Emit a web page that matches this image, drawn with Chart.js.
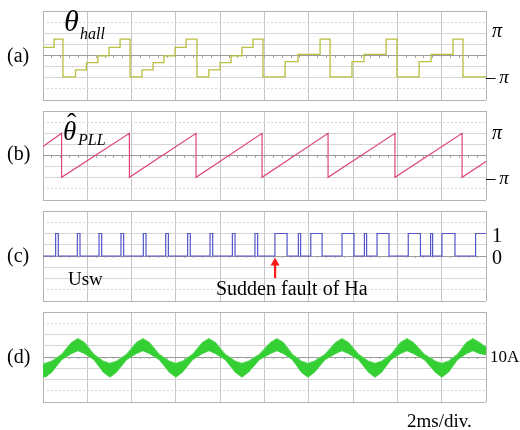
<!DOCTYPE html>
<html lang="en">
<head>
  <meta charset="UTF-8" />
  <title>Hall fault waveforms</title>
  <script src="https://cdn.jsdelivr.net/npm/chart.js"></script>
  <style>
    body { margin: 0; background: #fff; }
    #wrap { position: relative; width: 520px; height: 430px; overflow: hidden; }
    #wrap canvas, #wrap svg { position: absolute; left: 0; top: 0; }
    .t { position: absolute; font-family: "Liberation Serif", "Times New Roman", serif; line-height: 1; white-space: nowrap; color: #000; }
    .i { font-style: italic; }
  </style>
</head>
<body>
<div id="wrap">
  <canvas id="cA" width="520" height="430"></canvas>
  <canvas id="cB" width="520" height="430"></canvas>
  <canvas id="cC" width="520" height="430"></canvas>
  <canvas id="cD" width="520" height="430"></canvas>
  <svg width="520" height="430">
    <polygon points="275,257.5 270.5,265.5 279.5,265.5" fill="#ff1a1a" />
    <rect x="274" y="265" width="2.2" height="13" fill="#ff1a1a" />
  </svg>
</div>

<script>
  // time axis: 0..20 ms (2 ms/div)
  // (a) hall angle in rad, each level holds from its time to the next
  const hallT = [0, 0.50, 0.90, 1.47, 1.96, 2.48, 2.98, 3.48, 3.93, 4.47, 4.97, 5.46, 5.96, 6.46,
                 6.95, 7.49, 7.99, 8.49, 8.98, 9.48, 9.93, 10.93, 11.51, 12.51, 12.96, 13.95, 14.49,
                 15.49, 15.98, 16.98, 17.52, 18.51, 18.96, 20];
  const hallV = [1.15, 2.32, -3.02, -2.02, -1.0, -0.05, 1.15, 2.32, -3.02, -2.02, -1.0, -0.05, 1.15, 2.32,
                 -3.02, -2.02, -1.0, -0.05, 1.15, 2.32, -3.02, -0.87, 0.17, 2.32, -3.02, -0.87, 0.17,
                 2.32, -3.02, -0.87, 0.17, 2.32, -3.02, -3.02];

  // (b) PLL angle estimate in rad
  const pllT = [0, 0.84, 0.84, 3.90, 3.90, 6.91, 6.91, 9.89, 9.89, 12.87, 12.87, 15.89, 15.89, 18.92, 18.92, 20];
  const pllV = [1.26, 3.14, -3.08, 3.14, -3.08, 3.14, -3.08, 3.14, -3.08, 3.14, -3.08, 3.14, -3.08, 3.14, -3.08, -0.85];

  // (c) switch signal Usw, 0/1, each level holds from its time to the next
  const uswT = [0, 0.57, 0.69, 1.55, 1.67, 2.53, 2.65, 3.52, 3.64, 4.53, 4.65, 5.54, 5.66, 6.53, 6.65,
                7.54, 7.66, 8.55, 8.67, 9.57, 9.69, 10.47, 11.02, 11.53, 11.63, 12.09, 12.60, 13.50,
                14.04, 14.51, 14.61, 15.08, 15.62, 16.49, 17.04, 17.50, 17.59, 18.01, 18.60, 19.53, 20];
  const uswV = [0, 1, 0, 1, 0, 1, 0, 1, 0, 1, 0, 1, 0, 1, 0,
                1, 0, 1, 0, 1, 0, 1, 0, 1, 0, 1, 0, 1,
                0, 1, 0, 1, 0, 1, 0, 1, 0, 1, 0, 1, 1];

  // (d) phase current in A: upper / lower edge of the ripple band
  const curT  = [0, 0.10, 0.40, 0.84, 1.28, 1.58, 1.88, 2.30, 2.72,
                 3.02, 3.32, 3.77, 4.21, 4.51, 4.81, 5.25, 5.70,
                 6.00, 6.30, 6.75, 7.19, 7.49, 7.79, 8.23, 8.68,
                 8.98, 9.28, 9.77, 10.26, 10.56, 10.86, 11.26, 11.66,
                 11.96, 12.26, 12.73, 13.20, 13.50, 13.80, 14.25, 14.69,
                 14.99, 15.29, 15.71, 16.13, 16.43, 16.73, 17.22, 17.71,
                 18.01, 18.31, 18.71, 19.11, 19.41, 19.71, 20];
  const curHi = [-6, -5.5, -3.5, 2.5, 13, 16.5, 13, 2.5, -3.5,
                 -5.5, -3.5, 2.5, 13, 16.5, 13, 2.5, -3.5,
                 -5.5, -3.5, 2.5, 13, 16.5, 13, 2.5, -3.5,
                 -5.5, -3.5, 2.5, 13, 16.5, 13, 2.5, -3.5,
                 -5.5, -3.5, 2.5, 13, 16.5, 13, 2.5, -3.5,
                 -5.5, -3.5, 2.5, 13, 16.5, 13, 2.5, -3.5,
                 -5.5, -3.5, 2.5, 13, 16.5, 13, 9];
  const curLo = [-17, -18, -13.5, -2.5, 3, 5.5, 3, -2.5, -13.5,
                 -18, -13.5, -2.5, 3, 5.5, 3, -2.5, -13.5,
                 -18, -13.5, -2.5, 3, 5.5, 3, -2.5, -13.5,
                 -18, -13.5, -2.5, 3, 5.5, 3, -2.5, -13.5,
                 -18, -13.5, -2.5, 3, 5.5, 3, -2.5, -13.5,
                 -18, -13.5, -2.5, 3, 5.5, 3, -2.5, -13.5,
                 -18, -13.5, -2.5, 3, 5.5, 3, 2];

  const pts = (xs, ys) => xs.map((x, i) => ({ x: x, y: ys[i] }));

  const divTicks = (lo, hi, n) => scale => {
    scale.ticks = [];
    for (let i = 0; i <= n; i++) scale.ticks.push({ value: lo + (hi - lo) * i / n });
  };

  const scopeOptions = (top, bottom, yMin, yMax) => ({
    responsive: false,
    animation: false,
    events: [],
    layout: { padding: { left: 43, right: 34, top: top, bottom: 430 - bottom } },
    plugins: { legend: { display: false }, tooltip: { enabled: false } },
    elements: { point: { radius: 0 }, line: { tension: 0 } },
    scales: {
      x: {
        type: 'linear', min: 0, max: 20, afterBuildTicks: divTicks(0, 20, 10),
        ticks: { display: false }, border: { display: false },
        grid: { drawTicks: false, color: c => (c.index === 0 || c.index === 10) ? '#b4b4b4' : '#c6c6c6' }
      },
      y: {
        type: 'linear', min: yMin, max: yMax, afterBuildTicks: divTicks(yMin, yMax, 8),
        ticks: { display: false },
        border: { display: false, dash: c => (c.index === 1 || c.index === 7) ? [2, 2] : [] },
        grid: {
          drawTicks: false,
          color: c => c.index === 4 ? '#9c9c9c' : ((c.index === 0 || c.index === 8) ? '#b4b4b4' : '#d6d6d6')
        }
      },
      xm: {
        type: 'linear', axis: 'x', position: { y: (yMin + yMax) / 2 }, min: 0, max: 20,
        afterBuildTicks: divTicks(0, 20, 50),
        ticks: { display: false }, border: { display: false },
        grid: { drawOnChartArea: false, drawTicks: true, tickLength: 2, color: '#a8a8a8' }
      }
    }
  });

  const PI = Math.PI;

  new Chart(document.getElementById('cA'), {
    type: 'line',
    data: { datasets: [{ data: pts(hallT, hallV), xAxisID: 'x', borderColor: '#b9bf3e', borderWidth: 1.3, stepped: true }] },
    options: scopeOptions(11, 100, -2 * PI, 2 * PI)
  });

  new Chart(document.getElementById('cB'), {
    type: 'line',
    data: { datasets: [{ data: pts(pllT, pllV), xAxisID: 'x', borderColor: '#e0467e', borderWidth: 1.2 }] },
    options: scopeOptions(111, 200, -2 * PI, 2 * PI)
  });

  new Chart(document.getElementById('cC'), {
    type: 'line',
    data: { datasets: [{ data: pts(uswT, uswV), xAxisID: 'x', borderColor: '#5656c8', borderWidth: 1.2, stepped: true }] },
    options: scopeOptions(211, 301, -2, 2)
  });

  new Chart(document.getElementById('cD'), {
    type: 'line',
    data: {
      datasets: [
        { data: pts(curT, curHi), xAxisID: 'x', borderColor: '#6ad86a', borderWidth: 1, fill: '+1', backgroundColor: '#33cf33' },
        { data: pts(curT, curLo), xAxisID: 'x', borderColor: '#6ad86a', borderWidth: 1 }
      ]
    },
    options: scopeOptions(312, 402, -40, 40)
  });

  // text labels, placed by baseline
  const wrap = document.getElementById('wrap');
  const label = (html, x, base, size, cls) => {
    const d = document.createElement('div');
    d.className = 't ' + (cls || '');
    d.style.left = x + 'px';
    d.style.top = (base - 0.8375 * size) + 'px';
    d.style.fontSize = size + 'px';
    d.innerHTML = html;
    wrap.appendChild(d);
  };

  label('(a)', 7, 61.4, 20);
  label('(b)', 7, 160, 20);
  label('(c)', 7, 261.4, 20);
  label('(d)', 7, 363, 20);

  label('θ', 64, 31.5, 30, 'i');
  label('hall', 80, 39, 16, 'i');
  label('θ', 63, 141, 27, 'i');
  label('ˆ', 67, 132, 28);
  label('PLL', 78, 145, 16, 'i');

  label('<span class="i">π</span>', 492, 36.7, 20);
  label('–&thinsp;<span class="i">π</span>', 486, 83.3, 19);
  label('<span class="i">π</span>', 492, 138.3, 20);
  label('–&thinsp;<span class="i">π</span>', 486, 184, 19);
  label('1', 492, 241.7, 20);
  label('0', 492, 263.3, 20);
  label('10A', 490, 362, 17);

  label('Usw', 68, 285, 19);
  label('Sudden fault of Ha', 216, 295, 20);
  label('2ms/div.', 407, 427, 19);
</script>
</body>
</html>
